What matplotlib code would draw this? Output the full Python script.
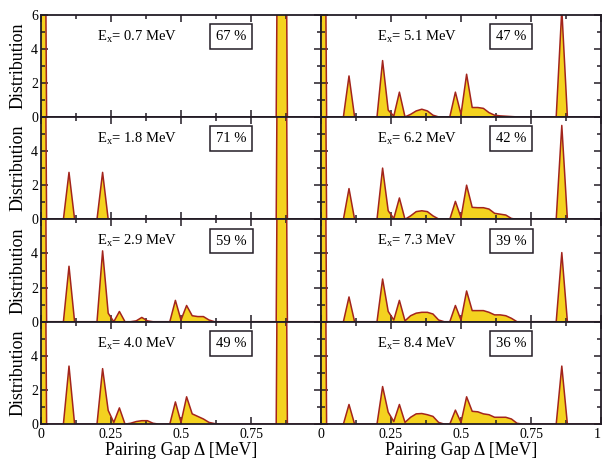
import numpy as np
import matplotlib
matplotlib.use("Agg")
import matplotlib.pyplot as plt
from matplotlib.ticker import MultipleLocator, FixedLocator, FixedFormatter

plt.rcParams['font.family'] = ['Liberation Serif', 'DejaVu Serif']
plt.rcParams['mathtext.fontset'] = 'custom'
plt.rcParams['mathtext.rm'] = 'Liberation Serif'

# pairing gap grid (MeV), step 0.02
delta = np.round(np.linspace(0.0, 1.0, 51), 2)

# excitation energies and percentages, left column then right column
energies = ["0.7", "1.8", "2.9", "4.0", "5.1", "6.2", "7.3", "8.4"]
percents = ["67 %", "71 %", "59 %", "49 %", "47 %", "42 %", "39 %", "36 %"]

# distributions (values at the grid above)
dist_07 = [50, 0, 0, 0, 0, 0, 0, 0, 0, 0,
           0, 0, 0, 0, 0, 0, 0, 0, 0, 0,
           0, 0, 0, 0, 0, 0, 0, 0, 0, 0,
           0, 0, 0, 0, 0, 0, 0, 0, 0, 0,
           0, 0, 0, 50, 0, 0, 0, 0, 0, 0, 0]
dist_18 = [50, 0, 0, 0, 0, 2.75, 0, 0, 0, 0,
           0, 2.75, 0, 0, 0, 0, 0, 0, 0, 0,
           0, 0, 0, 0, 0, 0, 0, 0, 0, 0,
           0, 0, 0, 0, 0, 0, 0, 0, 0, 0,
           0, 0, 0, 50, 0, 0, 0, 0, 0, 0, 0]
dist_29 = [50, 0, 0, 0, 0, 3.25, 0, 0, 0, 0,
           0, 4.15, 0.5, 0, 0.6, 0, 0, 0.05, 0.25, 0.05,
           0, 0, 0, 0, 1.25, 0.1, 0.95, 0.35, 0.3, 0.3,
           0.1, 0, 0, 0, 0, 0, 0, 0, 0, 0,
           0, 0, 0, 50, 0, 0, 0, 0, 0, 0, 0]
dist_40 = [50, 0, 0, 0, 0, 3.4, 0, 0, 0, 0,
           0, 3.25, 0.8, 0.1, 0.95, 0, 0.05, 0.15, 0.2, 0.2,
           0.05, 0, 0, 0, 1.3, 0.1, 1.6, 0.6, 0.45, 0.3,
           0.1, 0.03, 0, 0, 0, 0, 0, 0, 0, 0,
           0, 0, 0, 50, 0, 0, 0, 0, 0, 0, 0]
dist_51 = [50, 0, 0, 0, 0, 2.4, 0, 0, 0, 0,
           0, 3.3, 0.4, 0.05, 1.45, 0, 0.15, 0.35, 0.45, 0.35,
           0.1, 0, 0, 0, 1.45, 0.15, 2.5, 0.55, 0.55, 0.5,
           0.25, 0.1, 0.06, 0.04, 0.02, 0, 0, 0, 0, 0,
           0, 0, 0, 6.3, 0, 0, 0, 0, 0, 0, 0]
dist_62 = [50, 0, 0, 0, 0, 1.8, 0, 0, 0, 0,
           0, 3.0, 0.5, 0.05, 1.25, 0, 0.2, 0.45, 0.5, 0.45,
           0.2, 0.02, 0, 0, 1.05, 0.1, 2.0, 0.7, 0.68, 0.68,
           0.6, 0.35, 0.3, 0.25, 0.05, 0, 0, 0, 0, 0,
           0, 0, 0, 5.5, 0, 0, 0, 0, 0, 0, 0]
dist_73 = [50, 0, 0, 0, 0, 1.45, 0, 0, 0, 0,
           0, 2.5, 0.6, 0.1, 1.25, 0.05, 0.35, 0.5, 0.55, 0.55,
           0.45, 0.1, 0, 0, 0.95, 0.1, 1.8, 0.65, 0.65, 0.65,
           0.55, 0.4, 0.4, 0.35, 0.2, 0, 0, 0, 0, 0,
           0, 0, 0, 4.05, 0, 0, 0, 0, 0, 0, 0]
dist_84 = [50, 0, 0, 0, 0, 1.15, 0, 0, 0, 0,
           0, 2.2, 0.7, 0.15, 1.15, 0.1, 0.4, 0.6, 0.62, 0.55,
           0.45, 0.1, 0, 0, 0.82, 0.1, 1.6, 0.75, 0.72, 0.6,
           0.55, 0.4, 0.4, 0.4, 0.3, 0.05, 0, 0, 0, 0,
           0, 0, 0, 3.4, 0, 0, 0, 0, 0, 0, 0]

dists = [dist_07, dist_18, dist_29, dist_40, dist_51, dist_62, dist_73, dist_84]

fill_col = "#f4d21f"
line_col = "#a3241c"
spine_col = "#231c26"

W, H = 602, 462
fig = plt.figure(figsize=(W / 100, H / 100), dpi=100)

x0s = [41, 321]
axw = 280
top = 14.5
rowh = 102.4

for i, vals in enumerate(dists):
    col, row = divmod(i, 4)
    left = x0s[col] / W
    bottom = 1 - (top + (row + 1) * rowh) / H
    ax = fig.add_axes([left, bottom, axw / W, rowh / H])

    ax.fill_between(delta, vals, 0, color=fill_col, lw=0)
    ax.plot(delta, vals, color=line_col, lw=1.1)
    ax.set_xlim(0, 1)
    ax.set_ylim(0, 6)

    for sp in ax.spines.values():
        sp.set_color(spine_col)
        sp.set_linewidth(1.3)

    ax.xaxis.set_major_locator(FixedLocator([0, 0.25, 0.5, 0.75, 1.0]))
    ax.xaxis.set_minor_locator(MultipleLocator(0.125))
    ax.yaxis.set_major_locator(FixedLocator([0, 2, 4, 6]))
    ax.yaxis.set_minor_locator(MultipleLocator(1))
    ax.tick_params(which='both', direction='in', top=True, right=True,
                   color=spine_col, width=1.1, labelsize=10, pad=2.5)
    ax.tick_params(which='major', length=5)
    ax.tick_params(which='minor', length=3)

    if row == 3:
        xl = ["0", "0.25", "0.5", "0.75", "1" if col == 1 else ""]
        ax.xaxis.set_major_formatter(FixedFormatter(xl))
        if col == 1:
            fig.canvas.draw()
            ax.get_xticklabels()[-1].set_ha('right')
    else:
        ax.set_xticklabels([])

    if col == 0:
        yl = ["0", "2", "4", "6" if row == 0 else ""]
        ax.yaxis.set_major_formatter(FixedFormatter(yl))
        ax.tick_params(axis='y', pad=2)
    else:
        ax.set_yticklabels([])

    ax.text(0.2, 4.72, r"E$_\mathregular{x}$= " + energies[i] + " MeV",
            fontsize=10.5, ha='left', va='center')
    ax.text(0.68, 4.72, percents[i], fontsize=10.5, ha='center', va='center',
            bbox=dict(boxstyle='square,pad=0.4', fc='white', ec=spine_col, lw=1.1))

    if col == 0:
        yc = 1 - (top + (row + 0.5) * rowh) / H
        fig.text(18 / W, yc, "Distribution", rotation=90, fontsize=13,
                 ha='center', va='center')

for col in range(2):
    fig.text((x0s[col] + axw / 2) / W, 1 - 455 / H, "Pairing Gap Δ [MeV]",
             fontsize=12.8, ha='center', va='baseline')

fig.savefig("out.png", dpi=100)
